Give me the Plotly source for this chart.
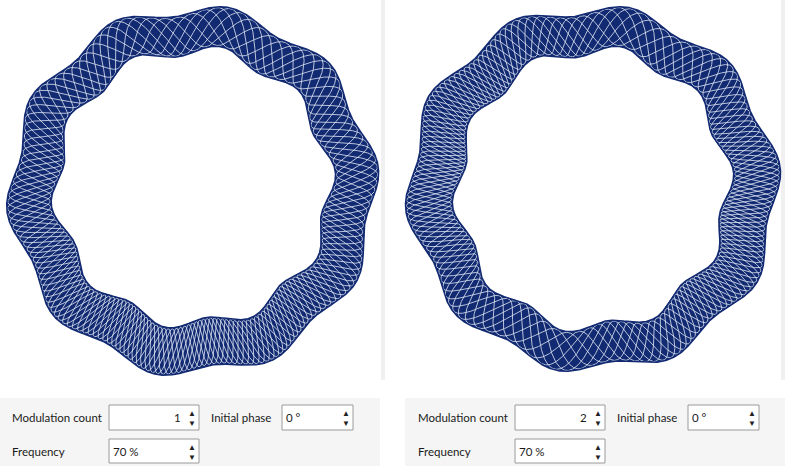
import numpy as np
import plotly.graph_objects as go

# ring parameters
ring_centers_x = [193, 593]
ring_center_y = 189
modulation_counts = [1, 2]
density_peak_deg = [265, 165]
frequency_pct = [70, 70]
initial_phase_deg = [0, 0]
base_cycles = 22
curve_copies = 7
modulation_depth = 0.45
wave_count = 10
wave_amp = 6
mid_radius = 159
half_width = 22

NAVY = '#122a72'
fig = go.Figure()

theta = np.linspace(0, 2 * np.pi, 4000)
for cx, M, peak in zip(ring_centers_x, modulation_counts, density_peak_deg):
    t0 = np.radians(peak)
    rc = mid_radius + wave_amp * np.sin(wave_count * theta + 0.4)
    w = half_width + 2 * np.cos(M * (theta - t0))
    phi = base_cycles * theta + base_cycles * modulation_depth / M * np.sin(M * (theta - t0))
    # y axis points down (pixel coordinates)
    outer_x = cx + (rc + w) * np.cos(theta)
    outer_y = ring_center_y - (rc + w) * np.sin(theta)
    inner_x = cx + (rc - w) * np.cos(theta)
    inner_y = ring_center_y - (rc - w) * np.sin(theta)
    fig.add_trace(go.Scatter(
        x=np.concatenate([outer_x, inner_x[::-1]]),
        y=np.concatenate([outer_y, inner_y[::-1]]),
        mode='lines', fill='toself', fillcolor=NAVY, line=dict(width=0),
        hoverinfo='skip', showlegend=False))
    for k in range(curve_copies):
        r = rc + w * 0.96 * np.sin(phi + 2 * np.pi * k / curve_copies)
        fig.add_trace(go.Scatter(
            x=cx + r * np.cos(theta), y=ring_center_y - r * np.sin(theta),
            mode='lines', line=dict(color='rgba(225,232,245,0.8)', width=1),
            hoverinfo='skip', showlegend=False))
    for bx, by in ((outer_x, outer_y), (inner_x, inner_y)):
        fig.add_trace(go.Scatter(x=bx, y=by, mode='lines',
                                 line=dict(color=NAVY, width=1.5),
                                 hoverinfo='skip', showlegend=False))

shapes = [
    dict(type='rect', x0=381, x1=385, y0=0, y1=380, fillcolor='#f0f0f0', line_width=0, layer='below'),
    dict(type='rect', x0=781, x1=785, y0=0, y1=380, fillcolor='#f0f0f0', line_width=0, layer='below'),
]
annotations = []
FONT = dict(family='Lato, Noto Sans, sans-serif', size=11.5, color='#1a1a1a')


def text(x, y, s, anchor='left'):
    annotations.append(dict(x=x, y=y, text=s, showarrow=False, xanchor=anchor,
                            yanchor='middle', font=FONT))


def spin_box(x0, x1, y0, y1, value, align):
    shapes.append(dict(type='rect', x0=x0, x1=x1, y0=y0, y1=y1, fillcolor='white',
                       line=dict(color='#9a9a9a', width=1)))
    ym = (y0 + y1) / 2
    if align == 'right':
        text(x1 - 16, ym, value, 'right')
    else:
        text(x0 + 2, ym, value)
    annotations.append(dict(x=x1 - 7, y=ym, text='▲<br>▼', showarrow=False,
                            yanchor='middle', font=dict(size=8, color='#222')))


for i, off in enumerate([0, 406]):
    px0 = 0 if i == 0 else 405
    shapes.append(dict(type='rect', x0=px0, x1=px0 + 380, y0=398, y1=466,
                       fillcolor='#f5f5f5', line_width=0, layer='below'))
    text(10 + off, 417, 'Modulation count')
    spin_box(109 + off, 199 + off, 405, 430, str(modulation_counts[i]), 'right')
    text(209 + off, 417, 'Initial phase')
    spin_box(282 + off, 353 + off, 405, 430, f'{initial_phase_deg[i]} °', 'left')
    text(10 + off, 451, 'Frequency')
    spin_box(109 + off, 199 + off, 439, 463, f'{frequency_pct[i]} %', 'left')

fig.update_layout(
    width=785, height=476, margin=dict(l=0, r=0, t=0, b=0),
    paper_bgcolor='white', plot_bgcolor='white',
    xaxis=dict(range=[0, 785], visible=False, fixedrange=True),
    yaxis=dict(range=[476, 0], visible=False, fixedrange=True),
    shapes=shapes, annotations=annotations)
fig.write_html('out.html', config=dict(displayModeBar=False),
               post_script="document.body.style.margin='0';")
